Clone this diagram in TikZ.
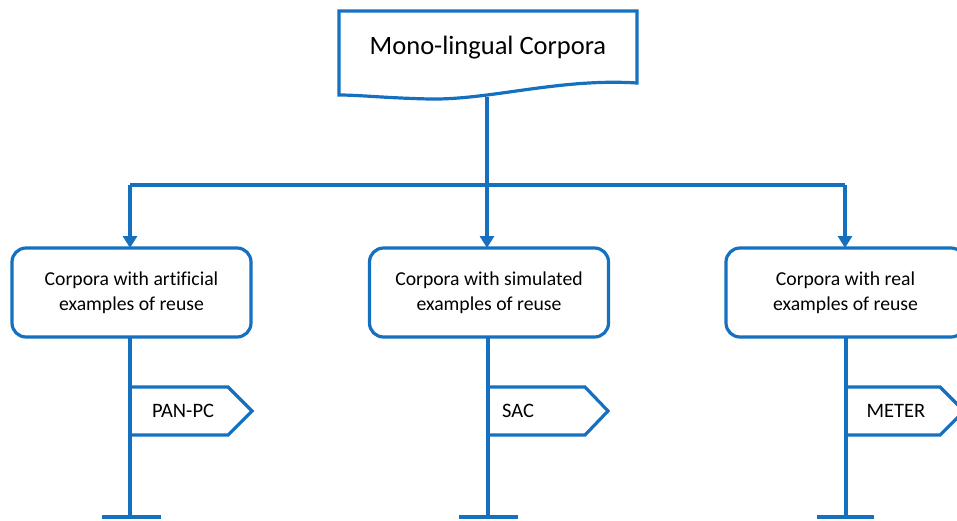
\documentclass[tikz,border=0pt]{standalone}
\usepackage{fontspec}
\setmainfont{Carlito}[Ligatures=NoCommon]
\usetikzlibrary{arrows.meta}
\definecolor{lineblue}{RGB}{22,112,192}
\tikzset{
  conn/.style={draw=lineblue, line width=3.2pt},
  arr/.style={conn, -{Triangle[width=14pt,length=12pt]}},
  catbox/.style={draw=lineblue, line width=3.2pt, rounded corners=14pt, fill=white,
    minimum width=239pt, minimum height=89pt, align=center, font=\fontsize{19.7}{25}\selectfont, outer sep=0pt},
  flagtext/.style={font=\fontsize{20.5}{22}\selectfont, inner sep=0pt},
}
\begin{document}
\begin{tikzpicture}[x=1pt,y=-1pt]
\useasboundingbox (0,0) rectangle (957,520);
% title document shape
\draw[conn, line join=miter] (339,11) -- (637,11) -- (637,83)
  .. controls (560,78) and (490,100) .. (430,99)
  .. controls (385,98) and (360,95) .. (339,95) -- cycle;
\node[font=\fontsize{26.5}{30}\selectfont] (title) at (488,48) {Mono-lingual Corpora};
\coordinate (docb) at (487,97);
\coordinate (hub) at (487,185);
\coordinate (lt) at (130,185);
\coordinate (rt) at (845,185);
% category boxes
\node[catbox] (b1) at (131.5,292.5) {Corpora with artificial\\examples of reuse};
\node[catbox] (b2) at (489,292.5) {Corpora with simulated\\examples of reuse};
\node[catbox] (b3) at (845.5,292.5) {Corpora with real\\examples of reuse};
% connectors
\draw[conn] (docb) -- (hub);
\draw[conn] (lt) -- (rt);
\draw[arr] (lt) -- (lt |- b1.north);
\draw[arr] (hub) -- (hub |- b2.north);
\draw[arr] (rt) -- (rt |- b3.north);
% poles
\coordinate (p1) at (130,517);
\coordinate (p2) at (488,517);
\coordinate (p3) at (846,517);
\draw[conn] (p1 |- b1.south) -- (p1);
\draw[conn] (p2 |- b2.south) -- (p2);
\draw[conn] (p3 |- b3.south) -- (p3);
\coordinate (p1l) at (102,517); \coordinate (p1r) at (161,517);
\coordinate (p2l) at (459,517); \coordinate (p2r) at (518,517);
\coordinate (p3l) at (817,517); \coordinate (p3r) at (874,517);
\draw[conn] (p1l) -- (p1r);
\draw[conn] (p2l) -- (p2r);
\draw[conn] (p3l) -- (p3r);
% flags
\draw[conn, line join=miter] (130,387) -- (228,387) -- (252,411) -- (228,435) -- (130,435);
\draw[conn, line join=miter] (488,387) -- (585,387) -- (608,411) -- (585,435) -- (488,435);
\draw[conn, line join=miter] (846,387) -- (940,387) -- (964,411) -- (940,435) -- (846,435);
\node[flagtext] (f1) at (183,411) {PAN-PC};
\node[flagtext] (f2) at (518,411) {SAC};
\node[flagtext] (f3) at (896,411) {METER};
\end{tikzpicture}
\end{document}
